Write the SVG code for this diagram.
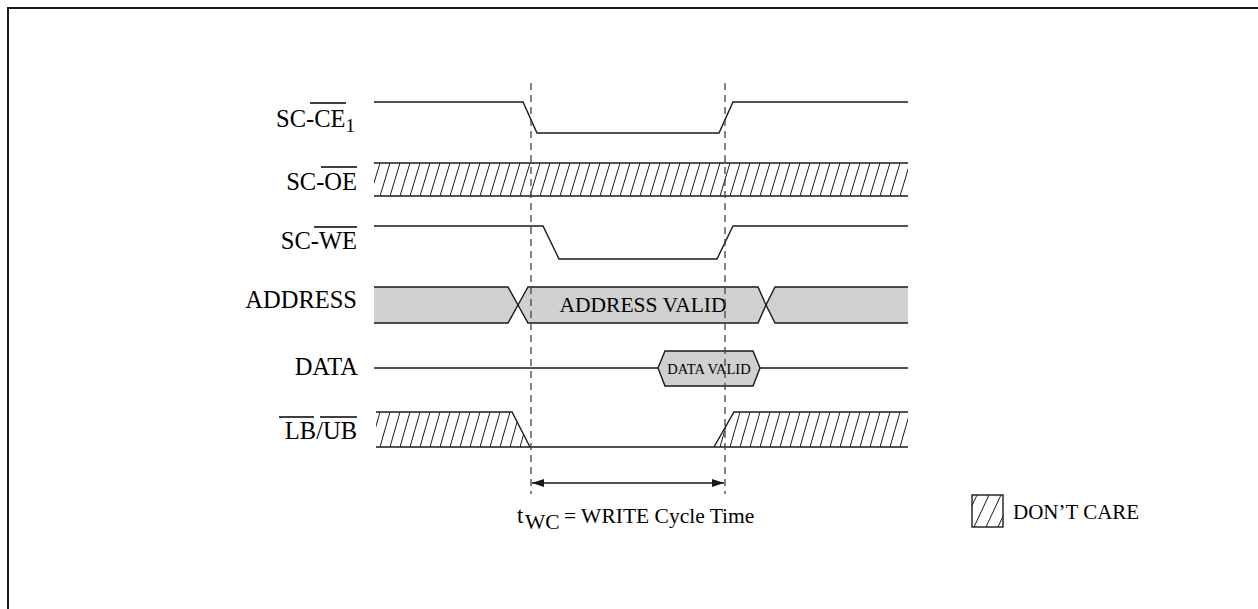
<svg xmlns="http://www.w3.org/2000/svg" width="1258" height="609" viewBox="0 0 1258 609">
  <style>
    .sig { fill: none; stroke: #1a1a1a; stroke-width: 1.4; }
    .lbl { font-family: "Liberation Serif", "Times New Roman", serif; font-size: 24.5px; fill: #000; }
    .txt { font-family: "Liberation Serif", "Times New Roman", serif; fill: #000; }
    .ovl { stroke: #000; stroke-width: 1.6; }
    .dash { stroke: #444; stroke-width: 1.3; stroke-dasharray: 7 5; fill: none; }
    .bus { fill: #d0d0d0; stroke: none; }
    .hex { fill: #d0d0d0; stroke: #1a1a1a; stroke-width: 1.4; }
  </style>
  <defs>
    <pattern id="hatchOE" patternUnits="userSpaceOnUse" x="0" y="163" width="10" height="33">
      <path d="M-1,36.3 L11,-3.3" stroke="#1a1a1a" stroke-width="1"/>
    </pattern>
    <pattern id="hatchLB" patternUnits="userSpaceOnUse" x="0" y="412" width="10" height="35">
      <path d="M-1,38.5 L11,-3.5" stroke="#1a1a1a" stroke-width="1"/>
    </pattern>
    <marker id="arr" markerWidth="13" markerHeight="9" refX="12" refY="4.5" orient="auto-start-reverse" markerUnits="userSpaceOnUse">
      <path d="M0,0.5 L12,4.5 L0,8.5 Z" fill="#1a1a1a"/>
    </marker>
    <clipPath id="legendClip">
      <rect x="972" y="495" width="31" height="32"/>
    </clipPath>
  </defs>

  <rect width="1258" height="609" fill="#ffffff"/>
  <g id="frame">
    <path d="M8,609 V8 H1258" fill="none" stroke="#1a1a1a" stroke-width="2"/>
  </g>

  <g id="sig-ce1">
    <text class="lbl" x="355" y="127" text-anchor="end">SC-CE<tspan font-size="19" dy="5">1</tspan></text>
    <line class="ovl" x1="310" y1="103" x2="346" y2="103"/>
    <path class="sig" d="M374,102 H523 L537,133 H719 L733,102 H908"/>
  </g>

  <g id="sig-oe">
    <text class="lbl" x="357" y="190" text-anchor="end">SC-OE</text>
    <line class="ovl" x1="321" y1="167" x2="357" y2="167"/>
    <rect x="374" y="163" width="534" height="33" fill="url(#hatchOE)"/>
    <path class="sig" d="M374,163 H908 M374,196 H908"/>
  </g>

  <g id="sig-we">
    <text class="lbl" x="357" y="249" text-anchor="end">SC-WE</text>
    <line class="ovl" x1="314" y1="227" x2="357" y2="227"/>
    <path class="sig" d="M374,226 H543 L559,259 H717 L733,226 H908"/>
  </g>

  <g id="sig-address">
    <text class="lbl" x="357" y="308" text-anchor="end">ADDRESS</text>
    <path class="bus" d="M374,287 H508 L518,305 L508,323 H374 Z"/>
    <path class="bus" d="M518,305 L528,287 H758 L766,305 L758,323 H528 Z"/>
    <path class="bus" d="M766,305 L775,287 H908 V323 H775 Z"/>
    <path class="sig" d="M374,287 H508 L518,305 L508,323 H374"/>
    <path class="sig" d="M518,305 L528,287 H758 L766,305 L758,323 H528 Z"/>
    <path class="sig" d="M908,287 H775 L766,305 L775,323 H908"/>
    <text class="txt" x="643" y="312" font-size="21.5" text-anchor="middle">ADDRESS VALID</text>
  </g>

  <g id="sig-data">
    <text class="lbl" x="358" y="375" text-anchor="end">DATA</text>
    <path class="sig" d="M374,368 H658 M760,368 H908"/>
    <path class="hex" d="M658,368 L665,351 H753 L760,368 L753,386 H665 Z"/>
    <text class="txt" x="709" y="374" font-size="14.5" text-anchor="middle">DATA VALID</text>
  </g>

  <g id="sig-lbub">
    <text class="lbl" x="357" y="439" text-anchor="end">LB/UB</text>
    <line class="ovl" x1="279" y1="417" x2="314" y2="417"/>
    <line class="ovl" x1="320" y1="417" x2="357" y2="417"/>
    <path d="M376,412 H512 L530,447 H376 Z" fill="url(#hatchLB)"/>
    <path d="M714,447 L734,412 H908 V447 Z" fill="url(#hatchLB)"/>
    <path class="sig" d="M376,412 H512 L530,447"/>
    <path class="sig" d="M714,447 L734,412 H908"/>
    <path class="sig" d="M376,447 H908"/>
  </g>

  <g id="connectors">
    <line class="dash" x1="531" y1="83" x2="531" y2="494"/>
    <line class="dash" x1="725" y1="83" x2="725" y2="494"/>
    <line x1="532" y1="483" x2="724" y2="483" stroke="#1a1a1a" stroke-width="1.6" marker-start="url(#arr)" marker-end="url(#arr)"/>
  </g>

  <g id="twc-label">
    <text class="txt" font-size="21.5" y="523"><tspan x="517" font-size="23">t</tspan><tspan x="525" dy="6">WC</tspan><tspan x="564" dy="-6">= WRITE Cycle Time</tspan></text>
  </g>

  <g id="legend">
    <g clip-path="url(#legendClip)">
      <path d="M962,527 L977,495 M974,527 L989,495 M986,527 L1001,495 M998,527 L1013,495" stroke="#1a1a1a" stroke-width="1"/>
    </g>
    <rect x="972" y="495" width="31" height="32" fill="none" stroke="#1a1a1a" stroke-width="1.4"/>
    <text class="txt" x="1013" y="519" font-size="21">DON’T CARE</text>
  </g>
</svg>
